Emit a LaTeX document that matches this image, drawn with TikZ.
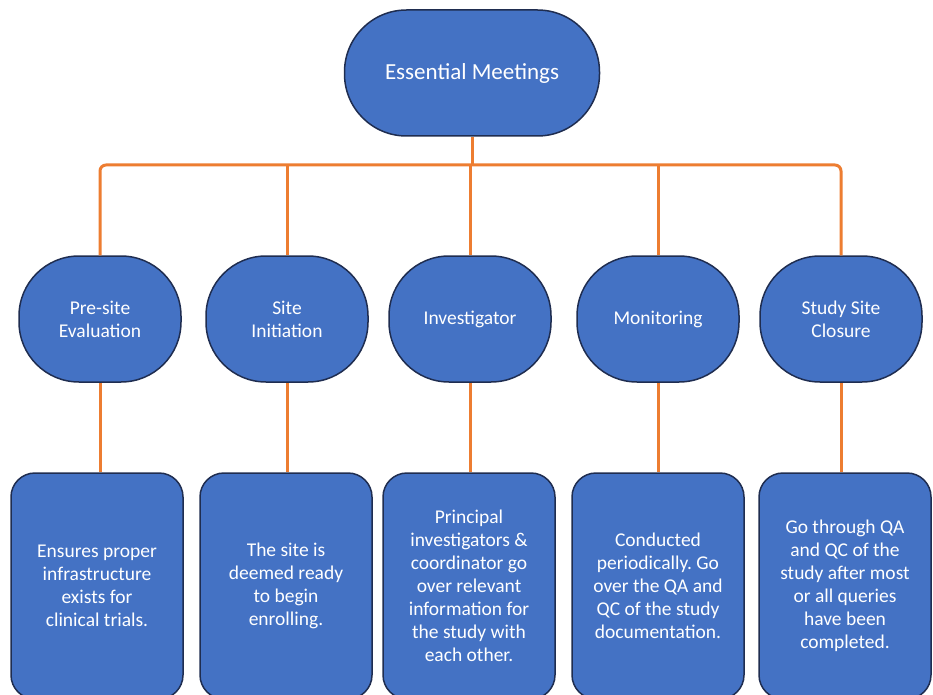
\documentclass[tikz,border=0pt]{standalone}
\usepackage{fontspec}
\setmainfont{Carlito}
\usepackage{tikz}
\usepackage{xcolor}
\definecolor{meetblue}{HTML}{4472C4}
\definecolor{rimblue}{HTML}{1F2D50}
\definecolor{busorange}{HTML}{ED7D31}

\begin{document}
\begin{tikzpicture}[x=1pt,y=-1pt,
  topbox/.style={draw=rimblue,line width=1.5pt,fill=meetblue,text=white,rounded corners=62pt,
    minimum width=255pt,minimum height=126pt,font=\fontsize{23}{28}\selectfont},
  kind/.style={draw=rimblue,line width=1.5pt,fill=meetblue,text=white,rounded corners=60pt,
    minimum width=162pt,minimum height=126pt,align=center,font=\fontsize{19.5}{23}\selectfont},
  info/.style={draw=rimblue,line width=1.5pt,fill=meetblue,text=white,rounded corners=24pt,
    minimum width=172pt,minimum height=226pt,align=center,font=\fontsize{19.5}{23}\selectfont},
  link/.style={draw=busorange,line width=3pt}]
  \useasboundingbox (0,0) rectangle (933,695);

  % top
  \node[topbox] (meet) at (472,73) {Essential Meetings};
  \coordinate (bus) at (472,165);

  % kinds of meeting
  \node[kind] (pre) at (100,319) {Pre-site\\Evaluation};
  \node[kind] (init) at (287,319) {Site\\Initiation};
  \node[kind] (inv) at (470,319) {Investigator};
  \node[kind] (mon) at (658,319) {Monitoring};
  \node[kind] (close) at (841,319) {Study Site\\Closure};

  % what happens
  \node[info] (preD) at (97,586) {Ensures proper\\infrastructure\\exists for\\clinical trials.};
  \node[info] (initD) at (286,586) {The site is\\deemed ready\\to begin\\enrolling.};
  \node[info] (invD) at (469,586) {Principal\\investigators \&\\coordinator go\\over relevant\\information for\\the study with\\each other.};
  \node[info] (monD) at (658,586) {Conducted\\periodically.\ Go\\over the QA and\\QC of the study\\documentation.};
  \node[info] (closeD) at (845,586) {Go through QA\\and QC of the\\study after most\\or all queries\\have been\\completed.};

  % connectors
  \draw[link] (meet.south) -- (bus);
  \draw[link,rounded corners=6pt] (pre.north) |- (bus) -| (close.north);
  \foreach \n in {init,inv,mon}
    \draw[link] (\n.north |- bus) -- (\n.north);
  \foreach \n in {pre,init,inv,mon,close}
    \draw[link] (\n.south) -- (\n.south |- \n D.north);
\end{tikzpicture}
\end{document}
